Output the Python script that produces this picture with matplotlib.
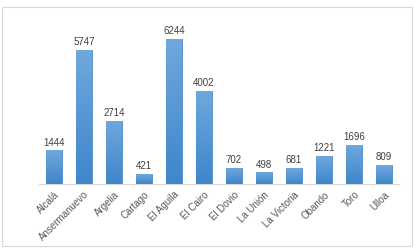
import matplotlib
matplotlib.use("Agg")
import matplotlib.pyplot as plt
import numpy as np
from matplotlib.patches import Rectangle

# data
municipios = ["Alcalá", "Ansermanuevo", "Argelia", "Cartago", "El Aguila", "El Cairo",
              "El Dovio", "La Unión", "La Victoria", "Obando", "Toro", "Ulloa"]
valores = [1444, 5747, 2714, 421, 6244, 4002, 702, 498, 681, 1221, 1696, 809]

plt.rcParams['font.family'] = ['Liberation Sans', 'DejaVu Sans']

fig = plt.figure(figsize=(4.19, 2.48), dpi=100)
fig.patch.set_facecolor("white")

# light frame around the chart area
fig.patches.append(Rectangle((2 / 419, 2 / 248), 410 / 419, 239 / 248,
                             transform=fig.transFigure, fill=False,
                             edgecolor="#D9D9D9", linewidth=0.8))

ax = fig.add_axes([39 / 419, (248 - 184) / 248, 360 / 419, 163 / 248])
x = np.arange(len(municipios))
bars = ax.bar(x, valores, width=0.53, color="#5B9BD5", edgecolor="#4A8BCB",
              linewidth=0.6, zorder=2)

# vertical gradient inside each bar, lighter at top
grad = np.linspace(0, 1, 64).reshape(-1, 1)
cmap = matplotlib.colors.LinearSegmentedColormap.from_list("g", ["#3F86CC", "#6FA8DC"])
for b in bars:
    x0, w, h = b.get_x(), b.get_width(), b.get_height()
    im = ax.imshow(grad, extent=(x0, x0 + w, 0, h), origin="lower", cmap=cmap,
                   aspect="auto", zorder=3)
    im.set_clip_path(b)

for xi, v in zip(x, valores):
    ax.text(xi, v + 120, str(v), ha="center", va="bottom", fontsize=7, color="#404040")

ax.set_xlim(-0.5, len(municipios) - 0.5)
ax.set_ylim(0, 7000)
ax.set_xticks(x)
ax.set_xticklabels(municipios, rotation=45, ha="right", rotation_mode="anchor",
                   fontsize=7, color="#595959")
ax.tick_params(axis="x", length=0, pad=4)
ax.set_yticks([])
for s in ["top", "right", "left"]:
    ax.spines[s].set_visible(False)
ax.spines["bottom"].set_color("#D9D9D9")
ax.spines["bottom"].set_linewidth(0.8)

fig.savefig("out.png", dpi=100)
